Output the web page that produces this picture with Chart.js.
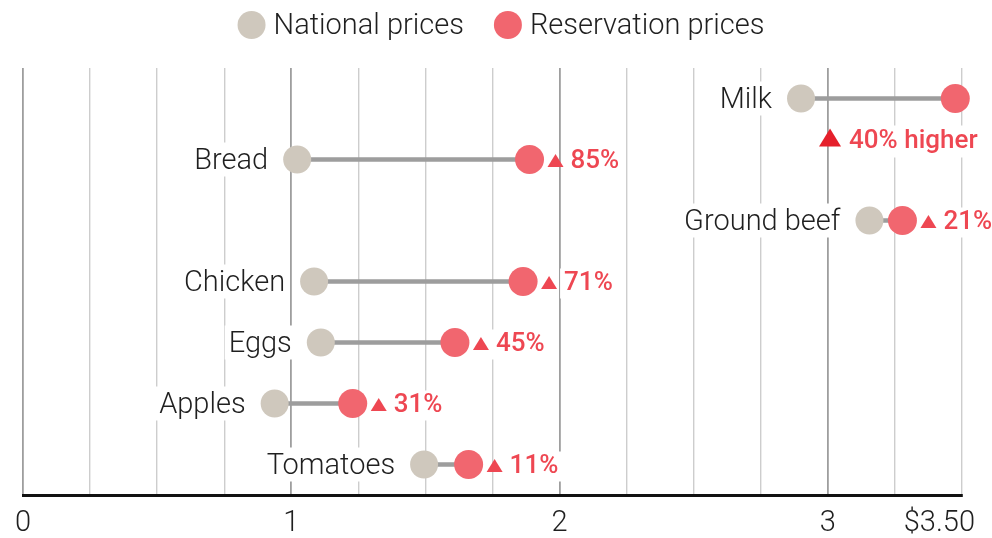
<!DOCTYPE html>
<html><head><meta charset="utf-8">
<script src="https://cdn.jsdelivr.net/npm/chart.js@4.4.1/dist/chart.umd.min.js"></script>
<style>html,body{margin:0;padding:0;background:#fff}#wrap{width:992px;height:538px;position:relative}</style>
</head><body><div id="wrap"><canvas id="c"></canvas></div>
<script>
const categories = ['Milk','Bread','Ground beef','Chicken','Eggs','Apples','Tomatoes'];
const nationalPrices = [2.90, 1.022, 3.155, 1.085, 1.11, 0.938, 1.495];
const reservationPrices = [3.475, 1.888, 3.278, 1.864, 1.61, 1.229, 1.661];
const increaseLabels = ['40% higher','85%','21%','71%','45%','31%','11%'];
const tickValues = [0, 1, 2, 3, 3.5];
const tickLabels = ['0', '1', '2', '3', '$3.50'];
const seriesNames = ['National prices', 'Reservation prices'];

const FONT = 'Roboto, "Liberation Sans", sans-serif';
const GREY = '#cfc8bd', RED = '#f1666f', TXT = '#1f1f1f', RED_TXT = '#ee4752', RED_TRI = '#e5202b';

function triangle(ctx, cx, cy, w, h, color){
  ctx.beginPath();
  ctx.moveTo(cx, cy - h/2);
  ctx.lineTo(cx + w/2, cy + h/2);
  ctx.lineTo(cx - w/2, cy + h/2);
  ctx.closePath();
  ctx.fillStyle = color; ctx.fill();
}

const labelsPlugin = {
  id: 'labelsPlugin',
  beforeDatasetsDraw(chart){
    const {ctx, scales:{x, y}} = chart;
    ctx.save();
    ctx.textBaseline = 'middle';
    categories.forEach((c, i) => {
      const py = y.getPixelForValue(i);
      const nx = x.getPixelForValue(nationalPrices[i]);
      const rx = x.getPixelForValue(reservationPrices[i]);
      // category label
      ctx.font = `300 29px ${FONT}`;
      ctx.textAlign = 'right';
      const w = ctx.measureText(c).width;
      const lx = nx - 29;
      ctx.fillStyle = '#fff';
      ctx.fillRect(lx - w - 4, py - 17, w + 8, 34);
      ctx.fillStyle = TXT;
      ctx.fillText(c, lx, py + 2);
      // increase annotation
      const t = increaseLabels[i];
      ctx.textAlign = 'left';
      ctx.font = `500 26px ${FONT}`;
      const tw = ctx.measureText(t).width;
      if (t.includes(' ')) {
        // explanatory label: placed below the row
        const ty = py + 43;
        const tx = nx + 48;
        ctx.fillStyle = '#fff';
        ctx.fillRect(tx - 4, ty - 16, tw + 8, 32);
        triangle(ctx, nx + 29, ty - 4, 22, 18, RED_TRI);
        ctx.fillStyle = RED_TXT;
        ctx.fillText(t, tx, ty);
      } else {
        const ty = py + 2;
        const tx = rx + 41;
        ctx.fillStyle = '#fff';
        ctx.fillRect(tx - 4, ty - 15, tw + 8, 30);
        triangle(ctx, rx + 26, ty - 1, 16, 13, RED_TXT);
        ctx.fillStyle = RED_TXT;
        ctx.fillText(t, tx, ty);
      }
    });
    ctx.restore();
  },
  afterDraw(chart){
    const {ctx, scales:{x}, chartArea} = chart;
    ctx.save();
    // x tick labels
    ctx.font = `300 29px ${FONT}`;
    ctx.fillStyle = TXT;
    ctx.textAlign = 'center';
    ctx.textBaseline = 'middle';
    tickValues.forEach((v, i) => {
      const w = ctx.measureText(tickLabels[i]).width;
      let px = x.getPixelForValue(v);
      px = Math.min(px, chart.width - 17 - w/2);
      ctx.fillText(tickLabels[i], px, chartArea.bottom + 29);
    });
    // legend
    const colors = [GREY, RED];
    const r = 14, gap = 8, itemGap = 30;
    const widths = seriesNames.map(s => 2*r + gap + ctx.measureText(s).width);
    const total = widths.reduce((a, b) => a + b, 0) + itemGap;
    let cx = 501 - total/2;
    const ly = 25;
    seriesNames.forEach((s, i) => {
      ctx.beginPath();
      ctx.arc(cx + r, ly, r, 0, Math.PI*2);
      ctx.fillStyle = colors[i]; ctx.fill();
      ctx.fillStyle = TXT;
      ctx.textAlign = 'left';
      ctx.fillText(s, cx + 2*r + gap, ly + 2);
      cx += widths[i] + itemGap;
    });
    ctx.restore();
  }
};

new Chart(document.getElementById('c'), {
  type: 'bar',
  data: {
    labels: categories,
    datasets: [
      { type: 'line', label: seriesNames[0], data: categories.map((c, i) => ({x: nationalPrices[i], y: c})),
        showLine: false, pointRadius: 14, pointHoverRadius: 14, pointBorderWidth: 0,
        pointBackgroundColor: GREY, backgroundColor: GREY, borderColor: GREY, order: 2, clip: false },
      { type: 'line', label: seriesNames[1], data: categories.map((c, i) => ({x: reservationPrices[i], y: c})),
        showLine: false, pointRadius: 14.5, pointHoverRadius: 14.5, pointBorderWidth: 0,
        pointBackgroundColor: RED, backgroundColor: RED, borderColor: RED, order: 1, clip: false },
      { type: 'bar', label: 'range', data: categories.map((c, i) => [nationalPrices[i], reservationPrices[i]]),
        backgroundColor: '#9d9d9d', barThickness: 4, order: 3, clip: false }
    ]
  },
  options: {
    indexAxis: 'y',
    responsive: true, maintainAspectRatio: false, animation: false, events: [],
    layout: { padding: { top: 68, left: 23, right: 30, bottom: 43 } },
    plugins: { legend: { display: false }, tooltip: { enabled: false } },
    scales: {
      x: { type: 'linear', min: 0, max: 3.5,
           ticks: { stepSize: 0.25, display: false },
           grid: { drawTicks: false,
                   color: c => Number.isInteger(c.tick.value) ? '#9e9e9e' : '#cdcdcd',
                   lineWidth: c => Number.isInteger(c.tick.value) ? 1.8 : 1.4 },
           border: { display: true, color: '#111', width: 3 } },
      y: { type: 'category', display: false, offset: true }
    }
  },
  plugins: [labelsPlugin]
});
</script>
</body></html>
